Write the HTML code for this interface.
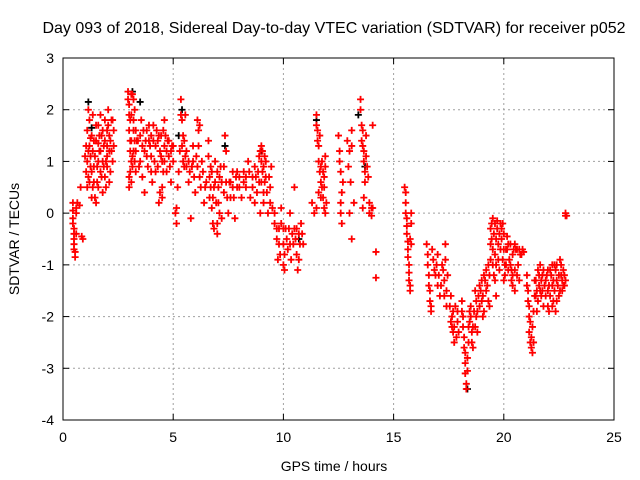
<!DOCTYPE html>
<html><head><meta charset="utf-8"><style>
html,body{margin:0;padding:0;background:#fff}
svg{display:block;font-family:"Liberation Sans",sans-serif}
</style></head><body>
<svg id="chart" width="640" height="480" viewBox="0 0 640 480">
<rect width="640" height="480" fill="#fff"/>
<text x="334" y="33" font-size="16" text-anchor="middle" fill="#000">Day 093 of 2018, Sidereal Day-to-day VTEC variation (SDTVAR) for receiver p052</text>
<g id="grid"></g>
<g id="black"></g>
<g id="red"></g>
<rect x="63" y="58" width="551" height="362" fill="none" stroke="#000" stroke-width="1"/>
<g id="ticks"></g>
<text x="334" y="471" font-size="14" text-anchor="middle">GPS time / hours</text>
<text x="19" y="239" font-size="14" text-anchor="middle" transform="rotate(-90 19 239)">SDTVAR / TECUs</text>
</svg>
<script>
const xTicks=[0,5,10,15,20,25];
const yTicks=[-4,-3,-2,-1,0,1,2,3];
const redPoints=[
[0.45,0.2],[0.45,0.05],[0.45,-0.1],[0.5,-0.3],[0.5,-0.5],[0.5,-0.7],[0.55,-0.85],[0.6,0.1],[0.6,-0.4],[0.85,-0.45],[0.8,0.5],[0.75,0.15],
[1.0,1.1],[1.05,0.8],[1.1,0.5],[1.1,1.6],[1.15,2.0],[1.2,1.3],[1.25,0.9],[1.3,0.3],[1.3,1.5],[1.35,1.9],[1.4,0.6],[1.45,1.1],[1.5,1.4],[1.5,0.2],[1.55,0.9],[1.6,1.7],[1.6,0.5],[1.65,1.2],[1.7,0.8],[1.75,1.5],[1.8,1.0],[1.8,0.4],[1.85,1.3],[1.9,1.8],[1.9,0.7],[1.95,1.0],[2.0,1.6],[2.05,2.0],[2.1,1.2],[2.1,0.6],[2.15,1.4],[2.2,1.8],[2.25,1.0],[2.3,1.6],[1.2,0.6],[1.35,1.2],[1.7,1.9],[2.0,0.9],
[2.95,2.35],[3.0,2.1],[3.05,1.8],[3.05,1.4],[3.1,1.0],[3.1,0.6],[3.15,2.3],[3.2,1.6],[3.2,1.2],[3.25,2.0],[3.3,0.8],[3.0,0.5],[3.15,0.9],
[3.4,1.4],[3.5,1.0],[3.55,1.8],[3.6,0.7],[3.7,1.2],[3.8,1.6],[3.85,0.9],[3.9,1.4],[4.0,1.1],[4.05,0.6],[4.1,1.7],[4.2,1.3],[4.3,0.9],[4.35,1.5],[4.4,0.4],[4.45,1.1],[4.5,0.3],[4.55,1.6],[4.6,1.3],[4.7,0.8],[4.75,1.4],[4.8,1.1],[4.9,0.6],[4.95,1.3],[5.0,1.0],[3.7,0.4],[4.2,0.8],[4.6,1.8],
[5.1,0.0],[5.15,-0.2],[5.2,0.5],[5.3,1.2],[5.35,2.2],[5.4,1.8],[5.45,1.5],[5.5,0.9],[5.6,1.2],[5.7,0.6],[5.8,-0.1],[5.85,0.9],[5.9,1.3],[6.0,0.4],[6.1,1.8],[6.15,1.6],[6.2,0.7],[6.3,1.0],[6.4,0.2],[6.5,0.6],[5.55,1.9],[6.05,1.1],
[6.6,1.4],[6.65,0.3],[6.7,0.9],[6.8,-0.2],[6.85,0.5],[6.9,1.0],[7.0,-0.4],[7.05,0.2],[7.1,0.7],[7.2,-0.1],[7.3,0.4],[7.35,1.5],[7.4,1.2],[7.5,0.0],[7.55,0.6],[7.6,0.3],[7.7,0.8],[7.8,-0.1],[7.9,0.5],[8.0,0.7],[6.75,0.1],[7.15,0.9],
[8.1,0.3],[8.2,0.8],[8.3,0.5],[8.4,1.0],[8.5,0.3],[8.6,0.7],[8.7,0.9],[8.8,0.4],[8.9,1.1],[9.0,1.3],[9.05,0.8],[9.1,0.2],[9.15,0.6],[9.2,1.0],[9.3,0.0],[9.4,0.5],[9.45,0.9],[8.95,0.0],
[9.6,-0.2],[9.7,-0.5],[9.75,-0.9],[9.8,-0.3],[9.9,0.1],[10.0,-0.6],[10.05,-1.1],[10.1,-0.3],[10.2,-0.7],[10.3,0.0],[10.4,-0.4],[10.5,0.5],[10.6,-0.8],[10.65,-1.1],[10.7,-0.4],[10.8,-0.2],[10.9,-0.6],[10.35,-0.9],
[11.3,0.2],[11.4,0.0],[11.5,1.9],[11.55,1.6],[11.6,1.3],[11.65,0.8],[11.7,0.6],[11.75,1.0],[11.8,0.3],[11.85,0.7],[11.9,1.1],[11.9,0.0],[11.6,0.4],
[12.5,1.5],[12.55,1.0],[12.6,0.2],[12.65,-0.2],[12.7,0.6],[12.9,1.4],[12.95,0.9],[13.0,0.0],[13.1,1.6],[13.2,0.2],[13.1,-0.5],
[13.5,2.2],[13.55,1.7],[13.6,1.3],[13.65,1.0],[13.7,0.6],[13.6,0.1],[13.75,1.5],[13.85,0.7],[13.9,0.0],[14.0,0.1],[14.05,1.7],[14.2,-0.75],[14.2,-1.25],
[15.5,0.5],[15.55,0.2],[15.6,-0.1],[15.6,-0.4],[15.65,-0.7],[15.7,-1.0],[15.7,-1.3],[15.75,-1.5],[15.8,0.0],[15.75,-0.5],
[16.5,-0.6],[16.55,-1.0],[16.6,-1.4],[16.65,-1.7],[16.7,-1.9],[16.8,-0.9],[16.9,-1.2],[17.0,-0.8],[17.1,-1.6],[17.2,-1.0],[17.3,-1.3],[17.4,-1.8],[17.35,-0.6],[17.6,-1.6],[17.65,-2.0],[17.7,-2.3],[17.75,-2.5],[17.8,-1.8],[17.9,-2.1],
[18.1,-1.7],[18.15,-2.0],[18.2,-2.4],[18.25,-2.7],[18.3,-3.3],[18.35,-3.05],[18.4,-2.5],[18.45,-2.1],[18.5,-1.8],[18.55,-2.3],[18.6,-2.6],[18.7,-1.5],[18.75,-2.0],[18.8,-2.3],[18.9,-1.4],[19.0,-1.7],[19.05,-2.0],[19.1,-1.2],[19.2,-1.5],[19.3,-1.0],[19.35,-1.8],[19.4,-0.6],[19.45,-0.2],[19.5,-0.1],[19.55,-0.4],[19.6,-0.8],[19.6,-1.3],[19.65,-1.6],[19.7,-0.3],[19.75,-0.6],[19.8,-1.1],[19.85,-0.2],[19.9,-0.5],[19.95,-0.9],[20.0,-1.3],[20.05,-1.0],[20.1,-0.7],[20.15,-0.45],[20.2,-1.1],[20.3,-0.6],[20.35,-1.3],[20.4,-0.8],[20.5,-1.5],[20.55,-0.7],[20.6,-1.2],[20.7,-0.7],[20.8,-0.8],[20.9,-0.75],[20.5,-1.1],
[21.05,-1.2],[21.1,-1.5],[21.15,-1.8],[21.2,-2.1],[21.25,-2.4],[21.3,-2.7],[21.35,-2.5],[21.4,-1.3],[21.45,-1.6],[21.5,-1.9],[21.55,-1.1],[21.6,-1.4],[21.7,-1.6],[21.75,-1.2],[21.8,-1.8],[21.9,-1.3],[22.0,-1.5],[22.05,-1.9],[22.1,-1.1],[22.2,-1.4],[22.25,-1.7],[22.3,-1.0],[22.4,-1.3],[22.5,-1.6],[22.55,-0.9],[22.6,-1.2],[22.65,-1.5],[22.7,-1.1],[22.75,-1.4],[21.65,-1.0],[22.35,-1.9],[22.8,0.0],[22.85,-0.05]
];
const redPointsExtra=[
[0.45,-0.2],[0.5,-0.4],[0.5,-0.6],[0.55,-0.75],[0.6,0.0],[0.65,0.2],[0.9,-0.5],
[1.05,1.3],[1.1,1.0],[1.15,0.7],[1.2,1.8],[1.25,1.1],[1.3,0.8],[1.35,0.5],[1.4,1.4],[1.45,0.3],[1.5,1.7],[1.55,0.6],[1.6,1.0],[1.65,1.5],[1.7,1.2],[1.75,0.7],[1.8,1.6],[1.85,0.9],[1.9,1.4],[1.95,0.5],[2.0,1.3],[2.05,1.7],[2.1,1.5],[2.15,0.8],[2.2,1.2],[2.25,1.8],[2.3,1.3],[2.0,1.1],[1.6,1.35],[1.4,0.9],[1.25,1.45],[1.15,1.2],
[2.95,2.2],[3.0,1.9],[3.0,1.6],[3.05,1.2],[3.05,0.8],[3.1,1.9],[3.1,1.4],[3.15,1.1],[3.2,2.2],[3.2,1.8],[3.25,1.4],[3.25,1.0],[3.3,1.6],[3.3,1.2],[3.35,1.4],[3.0,0.7],[3.1,2.3],
[3.5,1.5],[3.6,1.3],[3.65,1.6],[3.75,1.4],[3.8,1.1],[3.9,1.7],[3.95,1.3],[4.0,1.5],[4.1,1.4],[4.15,1.0],[4.25,1.6],[4.3,1.4],[4.4,1.2],[4.45,1.5],[4.5,1.0],[4.55,0.8],[4.6,1.0],[4.65,1.5],[4.7,1.2],[4.8,1.4],[4.85,0.9],[4.9,1.2],[5.0,1.3],[3.45,0.9],[4.0,0.8],[4.5,0.5],[4.35,0.2],
[5.35,1.9],[5.4,1.3],[5.45,1.0],[5.5,1.4],[5.55,1.1],[5.6,0.9],[5.7,1.0],[5.75,0.8],[5.9,1.0],[5.95,0.7],[6.1,0.9],[6.15,1.3],[6.2,1.7],[6.25,0.5],[6.35,0.8],[6.45,0.5],[5.15,0.1],[5.25,0.8],
[6.6,1.1],[6.65,0.7],[6.7,0.5],[6.75,0.8],[6.8,0.3],[6.9,0.6],[6.95,0.2],[7.0,0.8],[7.05,0.5],[7.1,0.0],[7.2,0.6],[7.3,0.9],[7.4,0.6],[7.45,0.3],[7.6,0.6],[7.7,0.5],[7.75,0.3],[7.85,0.7],[7.9,0.8],[8.0,0.5],[7.0,-0.2],[6.85,-0.3],
[8.2,0.6],[8.3,0.7],[8.45,0.8],[8.6,0.5],[8.75,0.7],[8.85,0.8],[8.9,0.6],[8.95,1.2],[9.0,1.0],[9.0,0.6],[9.05,1.2],[9.1,0.9],[9.1,0.4],[9.15,1.1],[9.2,0.7],[9.25,0.4],[9.35,0.7],[9.4,0.2],[9.5,0.1],[8.7,0.2],
[9.6,0.0],[9.7,-0.3],[9.8,-0.6],[9.85,-0.8],[9.9,-0.2],[10.0,-0.3],[10.05,-0.8],[10.15,-0.5],[10.25,-0.3],[10.3,-0.6],[10.45,-0.6],[10.5,-0.3],[10.55,-0.5],[10.6,-0.3],[10.7,-0.9],[10.75,-0.6],[10.85,-0.4],[10.0,-1.0],
[11.5,1.7],[11.55,1.4],[11.6,1.0],[11.65,1.5],[11.7,0.9],[11.75,0.5],[11.8,0.8],[11.85,0.5],[11.9,0.9],[11.95,0.2],[11.7,0.3],[11.5,0.1],[11.85,0.1],
[12.55,1.2],[12.6,0.8],[12.65,0.4],[12.6,0.0],[13.0,1.2],[13.05,0.6],[13.1,1.3],
[13.5,2.0],[13.55,1.4],[13.6,1.6],[13.65,1.2],[13.7,0.8],[13.65,0.3],[13.75,1.1],[13.8,0.9],[13.9,0.2],[14.0,-0.05],[14.05,0.1],
[15.55,0.4],[15.55,0.0],[15.6,-0.25],[15.65,-0.55],[15.65,-0.85],[15.7,-1.15],[15.75,-1.4],[15.8,-0.2],[15.8,-0.6],
[16.55,-0.8],[16.6,-1.2],[16.65,-1.5],[16.7,-1.8],[16.75,-0.7],[16.85,-1.1],[16.95,-1.0],[17.0,-1.4],[17.05,-1.2],[17.15,-1.4],[17.25,-1.1],[17.3,-1.6],[17.35,-0.9],[17.4,-1.5],[17.45,-1.2],[17.55,-1.8],[17.6,-2.1],[17.65,-2.2],[17.7,-1.9],[17.75,-2.2],[17.85,-2.4],[17.9,-1.9],[17.95,-2.3],
[18.1,-1.9],[18.15,-2.2],[18.2,-2.6],[18.25,-2.9],[18.25,-3.1],[18.3,-3.4],[18.35,-2.8],[18.4,-2.2],[18.45,-1.9],[18.5,-2.0],[18.55,-2.5],[18.6,-2.2],[18.65,-1.9],[18.7,-2.2],[18.75,-1.7],[18.8,-1.9],[18.85,-1.6],[18.9,-1.8],[18.95,-1.5],[19.0,-1.3],[19.05,-1.6],[19.1,-1.9],[19.15,-1.3],[19.2,-1.1],[19.25,-1.4],[19.3,-1.7],[19.35,-1.2],[19.4,-0.9],[19.4,-0.3],[19.45,-0.5],[19.5,-0.7],[19.5,-1.0],[19.55,-1.2],[19.6,-0.2],[19.65,-0.5],[19.65,-1.0],[19.7,-0.15],[19.75,-0.9],[19.8,-0.4],[19.85,-0.7],[19.9,-0.3],[19.95,-0.2],[20.0,-0.4],[20.0,-0.7],[20.05,-1.2],[20.1,-1.0],[20.15,-0.7],[20.2,-0.6],[20.25,-0.9],[20.3,-1.0],[20.35,-1.1],[20.4,-1.2],[20.45,-0.7],[20.5,-0.6],[20.6,-0.7],[20.65,-1.0],[20.75,-0.8],[20.85,-0.7],[20.7,-1.3],[20.4,-1.4],
[21.05,-1.4],[21.1,-1.7],[21.15,-2.0],[21.15,-2.3],[21.2,-2.5],[21.25,-2.6],[21.3,-2.2],[21.35,-1.9],[21.4,-1.6],[21.45,-1.3],[21.5,-1.5],[21.55,-1.7],[21.6,-1.2],[21.65,-1.5],[21.7,-1.3],[21.75,-1.5],[21.8,-1.1],[21.85,-1.4],[21.9,-1.6],[21.95,-1.2],[22.0,-1.1],[22.0,-1.8],[22.05,-1.4],[22.1,-1.6],[22.15,-1.2],[22.2,-1.0],[22.25,-1.3],[22.3,-1.5],[22.35,-1.1],[22.4,-1.0],[22.45,-1.4],[22.5,-1.2],[22.55,-1.5],[22.6,-1.0],[22.65,-1.3],[22.7,-1.4],[22.75,-1.2],[22.8,-1.3],[22.4,-1.7],[22.2,-1.8],[22.8,-0.05]
];
const blackPoints=[[1.15,2.15],[1.3,1.65],[3.15,2.35],[3.5,2.15],[5.4,2.0],[9.0,1.2],[11.5,1.8],[13.4,1.9],[13.7,0.9],[18.35,-3.4],[10.7,-0.5],[5.25,1.5],[7.35,1.3]];
const X0=63,X1=614,Y0=420,Y1=58;
const xs=t=>X0+(t-0)/(25-0)*(X1-X0);
const ys=v=>Y0-(v+4)/7*(Y0-Y1);
const NS='http://www.w3.org/2000/svg';
function mk(tag,attrs,parent){const e=document.createElementNS(NS,tag);for(const k in attrs)e.setAttribute(k,attrs[k]);parent.appendChild(e);return e;}
const grid=document.getElementById('grid'),ticks=document.getElementById('ticks');
xTicks.forEach(t=>{const x=xs(t);
 if(t>0&&t<25){const l=mk('line',{x1:x,y1:Y0,x2:x,y2:Y1,stroke:'#a0a0a0','stroke-dasharray':'2,3'},grid);
 
 }
 mk('line',{x1:x,y1:Y0,x2:x,y2:Y0-6,stroke:'#000'},ticks);mk('line',{x1:x,y1:Y1,x2:x,y2:Y1+6,stroke:'#000'},ticks);
 const tx=mk('text',{x:x,y:Y0+22,'font-size':14,'text-anchor':'middle'},ticks);tx.textContent=t;
 
 });
yTicks.forEach(v=>{const y=ys(v);
 if(v>-4&&v<3){const l=mk('line',{x1:X0,y1:y,x2:X1,y2:y,stroke:'#a0a0a0','stroke-dasharray':'2,3'},grid);
 
 }
 mk('line',{x1:X0,y1:y,x2:X0+6,y2:y,stroke:'#000'},ticks);mk('line',{x1:X1,y1:y,x2:X1-6,y2:y,stroke:'#000'},ticks);
 const tx=mk('text',{x:X0-9,y:y+5,'font-size':14,'text-anchor':'end'},ticks);tx.textContent=v;
 
 });
function plot(pts,g,color,name){let d='';pts.forEach(p=>{const x=xs(p[0]),y=ys(p[1]);d+=`M${x-3.5},${y}H${x+3.5}M${x},${y-3.5}V${y+3.5}`;});
 const pa=mk('path',{d:d,stroke:color,'stroke-width':1.8,fill:'none'},g);
 
 }
plot(blackPoints,document.getElementById('black'),'#000','black-markers');
plot(redPoints,document.getElementById('red'),'#ff0000','red-markers');
plot(redPointsExtra,document.getElementById('red'),'#ff0000','red-markers-extra');
</script>
</body></html>
